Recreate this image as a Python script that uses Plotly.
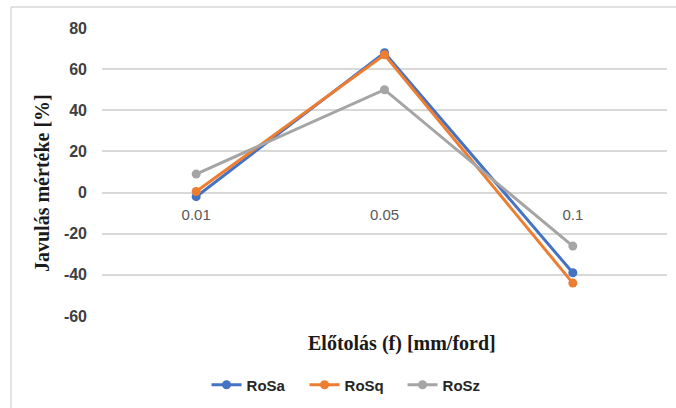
import plotly.graph_objects as go

categories = ["0.01", "0.05", "0.1"]
rosa = [-2, 68, -39]
rosq = [0.5, 67, -44]
rosz = [9, 50, -26]
series_names = ["RoSa", "RoSq", "RoSz"]
colors = ["#4472C4", "#ED7D31", "#A5A5A5"]
y_ticks = [-60, -40, -20, 0, 20, 40, 60, 80]

W, H = 676, 408
L, R, T, B = 102, 9, 28, 92
pw, ph = W - L - R, H - T - B

def px_x(x):
    return (x - L) / pw

def px_y(y):
    return (H - B - y) / ph

fig = go.Figure()
for name, vals, c in zip(series_names, [rosa, rosq, rosz], colors):
    fig.add_trace(go.Scatter(
        x=categories, y=vals, name=name, mode="lines+markers",
        line=dict(color=c, width=3), marker=dict(color=c, size=9),
    ))

ymin, ymax = -60, 80
fig.update_layout(
    width=W, height=H,
    margin=dict(l=L, r=R, t=T, b=B, pad=0),
    paper_bgcolor="white", plot_bgcolor="white",
    showlegend=True,
    legend=dict(orientation="h", xref="container", yref="container",
                x=0.523, xanchor="center", y=23 / H, yanchor="middle",
                font=dict(family="Liberation Sans, Arial", size=15, color="#262626",
                          weight="bold"),
                itemwidth=30, tracegroupgap=0, entrywidth=53),
    xaxis=dict(type="category", range=[-0.5, 2.5], showgrid=False, showline=False,
               zeroline=False, ticks="", anchor="free",
               position=(0 - ymin) / (ymax - ymin), ticklabelstandoff=11,
               tickfont=dict(family="Liberation Sans, Arial", size=15, color="#595959")),
    yaxis=dict(range=[ymin, ymax], tickvals=y_ticks, ticktext=[str(v) for v in y_ticks],
               showgrid=True, gridcolor="#D9D9D9", gridwidth=1.5,
               zeroline=False, showline=False, ticks="", ticklabelstandoff=14,
               tickfont=dict(family="Liberation Sans, Arial", size=16, color="#404040",
                             weight="bold")),
    annotations=[
        dict(text="<b>Javulás mértéke [%]</b>", xref="paper", yref="paper",
             x=px_x(42), y=px_y(183), showarrow=False, textangle=-90,
             xanchor="center", yanchor="middle",
             font=dict(family="Liberation Serif, Times New Roman", size=20, color="#1a1a1a")),
        dict(text="<b>Előtolás (f) [mm/ford]</b>", xref="paper", yref="paper",
             x=px_x(402), y=px_y(343), showarrow=False,
             xanchor="center", yanchor="middle",
             font=dict(family="Liberation Serif, Times New Roman", size=20, color="#1a1a1a")),
    ],
    shapes=[
        dict(type="line", xref="paper", yref="paper", x0=px_x(11), x1=px_x(W + 5),
             y0=px_y(7), y1=px_y(7), line=dict(color="#D9D9D9", width=1.5)),
        dict(type="line", xref="paper", yref="paper", x0=px_x(11), x1=px_x(11),
             y0=px_y(7), y1=px_y(H + 5), line=dict(color="#D9D9D9", width=1.5)),
    ],
)

fig.write_html("out.html")
